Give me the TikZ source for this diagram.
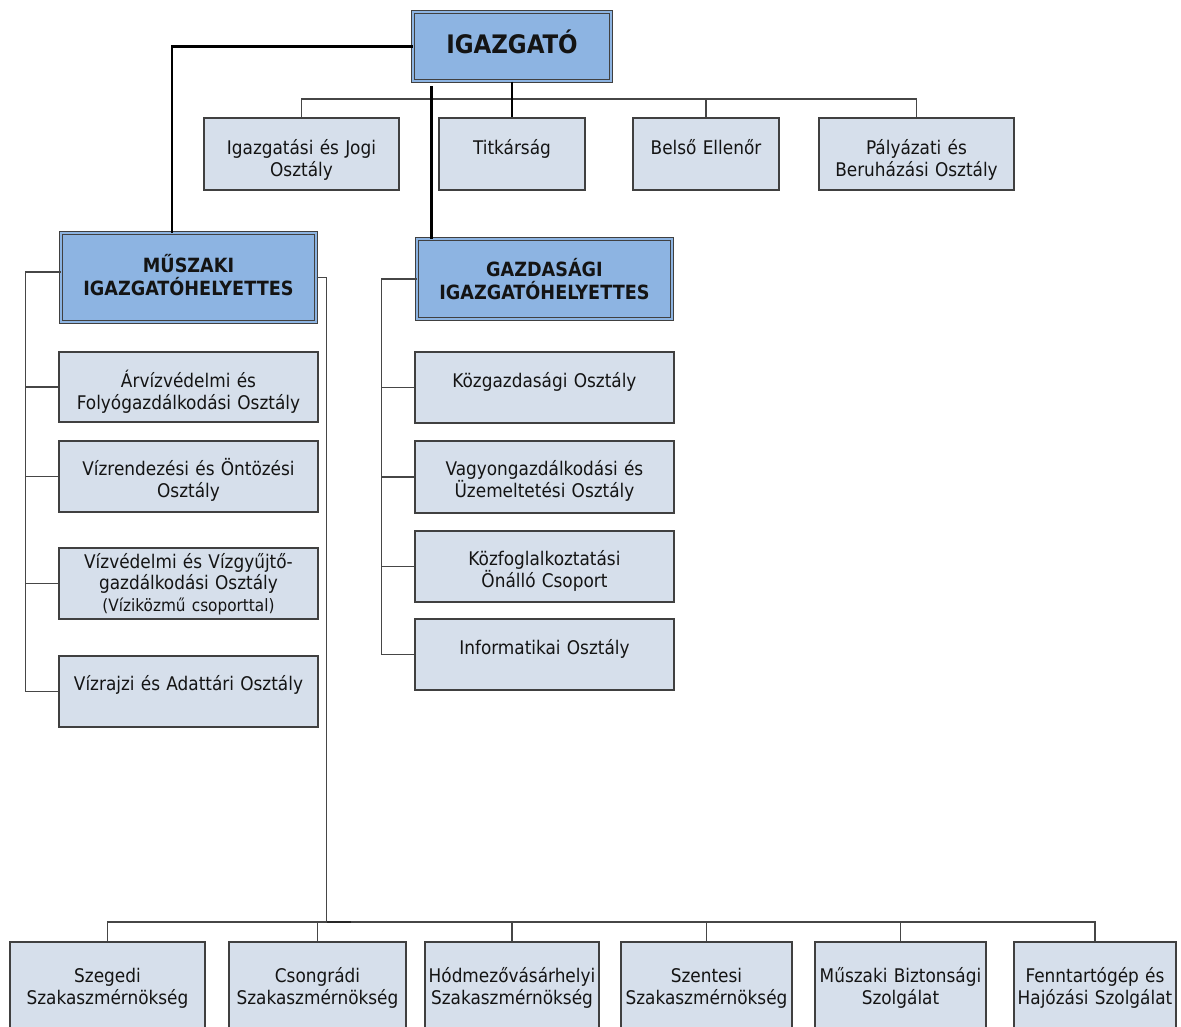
\documentclass[tikz,border=0pt]{standalone}
\usepackage{fontspec}
\setmainfont{DejaVu Sans Condensed}
\definecolor{bluefill}{RGB}{141,180,226}
\definecolor{lightfill}{RGB}{214,223,235}
\definecolor{edge}{RGB}{64,64,64}
\definecolor{linkgray}{RGB}{70,70,70}
\definecolor{ink}{RGB}{20,20,20}
\tikzset{
  lbox/.style={draw=edge, line width=1.5pt, fill=lightfill, inner sep=0pt},
  hbox/.style={draw=edge, line width=1pt, double=bluefill, double distance=2pt, fill=bluefill, inner sep=0pt},
  txt/.style={text=ink, inner sep=0pt, anchor=base, align=center, text width=300pt, font=\fontsize{18.8}{22}\selectfont},
  htxt/.style={txt, font=\bfseries\fontsize{19.6}{23}\selectfont},
  conn/.style={draw=linkgray, line width=1.7pt},
  boss/.style={draw=black, line width=2.6pt},
}
% #1 box style, #2 text style, #3 name, #4 x1, #5 y1, #6 x2, #7 y2, #8 baseline offset, #9 text
\newcommand\obox[9]{%
  \node[#1, minimum width={#6-#4}, minimum height={#7-#5}] (#3) at ({(#4+#6)/2},{(#5+#7)/2}) {};
  \node[#2] (#3-t) at ({(#4+#6)/2},{#5+#8}) {#9};
}
\begin{document}
\begin{tikzpicture}[x=1pt,y=-1pt]
\useasboundingbox (0,0) rectangle (1181,1026);

% top level
\obox{hbox}{htxt,font=\bfseries\fontsize{25.5}{28}\selectfont}{ig}{413}{12}{611}{81}{41}{IGAZGATÓ}
\obox{lbox}{txt}{igj}{204}{118}{399}{190}{36}{Igazgatási és Jogi\\Osztály}
\obox{lbox}{txt}{tit}{439}{118}{585}{190}{36}{Titkárság}
\obox{lbox}{txt}{bel}{633}{118}{779}{190}{36}{Belső Ellenőr}
\obox{lbox}{txt}{pal}{819}{118}{1014}{190}{36}{Pályázati és\\Beruházási Osztály}

% deputies
\obox{hbox}{htxt}{mu}{61}{233}{316}{322}{39}{MŰSZAKI\\IGAZGATÓHELYETTES}
\obox{hbox}{htxt}{gaz}{417}{239}{672}{319}{37}{GAZDASÁGI\\IGAZGATÓHELYETTES}

% technical departments
\obox{lbox}{txt}{arv}{59}{352}{318}{422}{35}{Árvízvédelmi és\\Folyógazdálkodási Osztály}
\obox{lbox}{txt}{vzr}{59}{441}{318}{512}{34}{Vízrendezési és Öntözési\\Osztály}
\obox{lbox}{txt,font=\fontsize{18.8}{21.5}\selectfont}{vzv}{59}{548}{318}{619}{20}{Vízvédelmi és Vízgyűjtő-\\gazdálkodási Osztály\\{\fontsize{17}{22}\selectfont(Víziközmű csoporttal)}}
\obox{lbox}{txt}{vrj}{59}{656}{318}{727}{34}{Vízrajzi és Adattári Osztály}

% economic departments
\obox{lbox}{txt}{kg}{415}{352}{674}{423}{35}{Közgazdasági Osztály}
\obox{lbox}{txt}{vag}{415}{441}{674}{513}{34}{Vagyongazdálkodási és\\Üzemeltetési Osztály}
\obox{lbox}{txt}{kf}{415}{531}{674}{602}{34}{Közfoglalkoztatási\\Önálló Csoport}
\obox{lbox}{txt}{inf}{415}{619}{674}{690}{35}{Informatikai Osztály}

% bottom row
\obox{lbox}{txt}{sz1}{10}{942}{205}{1040}{40}{Szegedi\\Szakaszmérnökség}
\obox{lbox}{txt}{sz2}{229}{942}{406}{1040}{40}{Csongrádi\\Szakaszmérnökség}
\obox{lbox}{txt}{sz3}{425}{942}{599}{1040}{40}{Hódmezővásárhelyi\\Szakaszmérnökség}
\obox{lbox}{txt}{sz4}{621}{942}{792}{1040}{40}{Szentesi\\Szakaszmérnökség}
\obox{lbox}{txt}{sz5}{815}{942}{986}{1040}{40}{Műszaki Biztonsági\\Szolgálat}
\obox{lbox}{txt}{sz6}{1014}{942}{1176}{1040}{40}{Fenntartógép és\\Hajózási Szolgálat}

% connectors: top row
\draw[conn] (igj.north) -- ++(0,-18) -| (pal.north);
\draw[conn] (bel.north) -- ++(0,-18);
\draw[boss] (ig.south) -- (tit.north);
\draw[boss] (ig.west) -| ([xshift=-16.5pt]mu.north);
\coordinate (gdrop) at ([xshift=15pt]gaz.north west);
\draw[boss, shorten >=4pt] (gdrop) -- (gdrop |- ig.south);

% technical deputy, left bus
\draw[conn] ([yshift=5.5pt]mu.west) -- ++(-35,0) |- (vrj.west);
\foreach \n in {arv,vzr,vzv} \draw[conn] (\n.west) -- ++(-33,0);

% economic deputy, left bus
\draw[conn] (gaz.west) -- ++(-35,0) |- (inf.west);
\foreach \n in {kg,vag,kf} \draw[conn] (\n.west) -- ++(-33,0);

% technical deputy, right line to bottom bus
\coordinate (bus) at ([yshift=19pt]sz1.north);
\draw[conn] (mu.east) -- ++(10,0) coordinate (mr) -- (mr |- bus);
\draw[conn] (sz1.north) -- (bus) -| (sz6.north);
\foreach \n in {sz2,sz3,sz4,sz5} \draw[conn] (\n.north) -- ++(0,-19);
\draw[conn, draw=black!85] (mr |- bus) -- ++(24,0);
\end{tikzpicture}
\end{document}
